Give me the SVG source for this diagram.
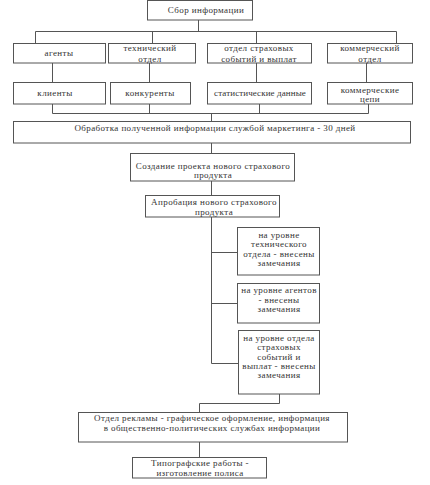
<svg xmlns="http://www.w3.org/2000/svg" width="430" height="485" viewBox="0 0 430 485">
<style>
.b{fill:#fff;stroke:#555;stroke-width:1}
.c{fill:none;stroke:#555;stroke-width:1}
text{font-family:"Liberation Serif","DejaVu Serif",serif;font-size:9px;fill:#333;text-anchor:middle;letter-spacing:0.4px}
</style>
<rect width="430" height="485" fill="#fff"/>
<g id="connectors">
<path class="c" d="M198.5 20V31.5M35.5 31.5H396.5M35.5 31.5V43M152.5 31.5V43M256.5 31.5V43M396.5 31.5V43"/>
<path class="c" d="M52.5 63V82M149.5 63V82M256.5 63V82M366.5 63V82"/>
<path class="c" d="M52.5 104V113.5H368.5M149.5 104V113.5M259.5 104V113.5M368.5 104V113.5M211.5 113.5V121"/>
<path class="c" d="M211.5 143V153M211.5 181V195M211.5 217V363.5H238M211.5 252.5H237M211.5 303.5H237"/>
<path class="c" d="M279.5 394V403.5H199.5V412M199.5 442V457"/>
</g>
<g id="n1"><rect class="b" x="147.5" y="0.5" width="105" height="19.5"/><text x="206" y="13">Сбор информации</text></g>
<g id="n2"><rect class="b" x="13.5" y="43.5" width="92" height="19.5"/><text x="59" y="55.5">агенты</text></g>
<g id="n3"><rect class="b" x="108.5" y="43.5" width="87" height="19.5"/><text x="150" y="51">технический</text><text x="150" y="61.5">отдел</text></g>
<g id="n4"><rect class="b" x="207.5" y="43.5" width="104" height="19.5"/><text x="259" y="51">отдел страховых</text><text x="259" y="61.5">событий и выплат</text></g>
<g id="n5"><rect class="b" x="327.5" y="43.5" width="85" height="19.5"/><text x="370" y="51">коммерческий</text><text x="370" y="61.5">отдел</text></g>
<g id="n6"><rect class="b" x="13.5" y="82.5" width="92" height="21.5"/><text x="55" y="95.5">клиенты</text></g>
<g id="n7"><rect class="b" x="110.5" y="82.5" width="80" height="21.5"/><text x="150" y="95.5">конкуренты</text></g>
<g id="n8"><rect class="b" x="207.5" y="82.5" width="104" height="21.5"/><text x="260" y="95.5" style="letter-spacing:0.1px">статистические данные</text></g>
<g id="n9"><rect class="b" x="327.5" y="82.5" width="85" height="21.5"/><text x="370" y="92.5">коммерческие</text><text x="370" y="102">цепи</text></g>
<g id="n10"><rect class="b" x="13.5" y="121.5" width="397" height="21.5"/><text x="215" y="131">Обработка полученной информации службой маркетинга - 30 дней</text></g>
<g id="n11"><rect class="b" x="130.5" y="153.5" width="164" height="27.5"/><text x="213" y="169">Создание проекта нового страхового</text><text x="213" y="178">продукта</text></g>
<g id="n12"><rect class="b" x="145.5" y="195.5" width="134" height="21.5"/><text x="214" y="205">Апробация нового страхового</text><text x="214" y="214.5">продукта</text></g>
<g id="n13"><rect class="b" x="237.5" y="227.5" width="82" height="47.5"/><text x="279" y="238">на уровне</text><text x="279" y="247">технического</text><text x="279" y="256.5">отдела - внесены</text><text x="279" y="266">замечания</text></g>
<g id="n14"><rect class="b" x="237.5" y="283.5" width="82" height="39.5"/><text x="279" y="293">на уровне агентов</text><text x="279" y="302.5">- внесены</text><text x="279" y="312">замечания</text></g>
<g id="n15"><rect class="b" x="238.5" y="330.5" width="81" height="63.5"/><text x="279" y="341">на уровне отдела</text><text x="279" y="350">страховых</text><text x="279" y="359.5">событий и</text><text x="279" y="368.5">выплат - внесены</text><text x="279" y="378">замечания</text></g>
<g id="n16"><rect class="b" x="78.5" y="412.5" width="269" height="29.5"/><text x="212" y="421">Отдел рекламы - графическое оформление, информация</text><text x="212" y="431">в общественно-политических службах информации</text></g>
<g id="n17"><rect class="b" x="132.5" y="457.5" width="134" height="20.5"/><text x="200" y="466">Типографские работы -</text><text x="200" y="476">изготовление полиса</text></g>
</svg>
